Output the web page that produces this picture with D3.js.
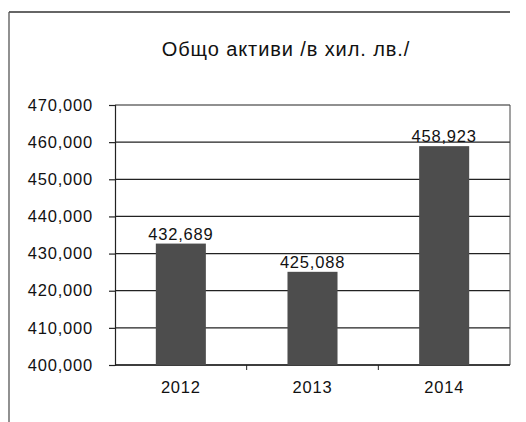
<!DOCTYPE html>
<html>
<head>
<meta charset="utf-8">
<script src="https://cdn.jsdelivr.net/npm/d3@7"></script>
<style>
  body { margin: 0; background: #fff; }
  text { font-family: "Liberation Sans", Arial, sans-serif; fill: #111; }
</style>
</head>
<body>
<div id="chart"></div>
<script>
// chart size
var chart_width  = 526;
var chart_height = 422;

// data
var years  = ['2012', '2013', '2014'];
var values = [432689, 425088, 458923];
var y_ticks = [400000, 410000, 420000, 430000, 440000, 450000, 460000, 470000];
var title_text = 'Общо активи /в хил. лв./';

var plot = { left: 115, right: 510, top: 105, bottom: 365 };
var label_size = 16.5;
var label_spacing = 0.8;

var svg = d3.select('#chart')
    .append('svg')
    .attr('width', chart_width)
    .attr('height', chart_height);

// outer frame (only top and left visible on the scan)
svg.append('line')
    .attr('x1', 9).attr('y1', 12).attr('x2', 510).attr('y2', 12)
    .attr('stroke', '#333').attr('stroke-width', 1.3);
svg.append('line')
    .attr('x1', 9).attr('y1', 12).attr('x2', 9).attr('y2', 422)
    .attr('stroke', '#555').attr('stroke-width', 1.3);

svg.append('text')
    .attr('x', 286)
    .attr('y', 56)
    .attr('text-anchor', 'middle')
    .attr('font-size', 20)
    .attr('letter-spacing', 0.9)
    .text(title_text);

var x = d3.scaleBand()
    .domain(years)
    .range([plot.left, plot.right])
    .paddingInner(0.62)
    .paddingOuter(0.31);

var y = d3.scaleLinear()
    .domain([400000, 470000])
    .range([plot.bottom, plot.top]);

// gridlines
svg.append('g')
    .selectAll('line')
    .data(y_ticks)
    .enter()
    .append('line')
    .attr('x1', plot.left)
    .attr('x2', plot.right)
    .attr('y1', function(d){ return y(d); })
    .attr('y2', function(d){ return y(d); })
    .attr('stroke', '#222')
    .attr('stroke-width', 1.2);

// right edge of plot
svg.append('line')
    .attr('x1', plot.right).attr('x2', plot.right)
    .attr('y1', plot.top).attr('y2', plot.bottom)
    .attr('stroke', '#444').attr('stroke-width', 1);

// y axis
var y_axis = d3.axisLeft(y)
    .tickValues(y_ticks)
    .tickFormat(d3.format(','))
    .tickSize(6)
    .tickPadding(16);

var y_g = svg.append('g')
    .attr('transform', 'translate(' + plot.left + ',0)')
    .call(y_axis);
y_g.selectAll('text')
    .attr('font-size', label_size)
    .attr('letter-spacing', label_spacing)
    .attr('font-family', '"Liberation Sans", Arial, sans-serif');
y_g.selectAll('line, path').attr('stroke', '#222').attr('stroke-width', 1.2);

// x axis
var x_axis = d3.axisBottom(x)
    .tickSize(0)
    .tickPadding(16);

var x_g = svg.append('g')
    .attr('transform', 'translate(0,' + plot.bottom + ')')
    .call(x_axis);
x_g.select('.domain').remove();
x_g.selectAll('text')
    .attr('font-size', label_size)
    .attr('letter-spacing', label_spacing)
    .attr('font-family', '"Liberation Sans", Arial, sans-serif');

svg.append('line')
    .attr('x1', plot.left).attr('x2', plot.right)
    .attr('y1', plot.bottom).attr('y2', plot.bottom)
    .attr('stroke', '#222').attr('stroke-width', 1.3);

// category separators
var step = x.step();
svg.append('g')
    .selectAll('line')
    .data(years.slice(1))
    .enter()
    .append('line')
    .attr('x1', function(d){ return x(d) - step * x.paddingInner() / 2; })
    .attr('x2', function(d){ return x(d) - step * x.paddingInner() / 2; })
    .attr('y1', plot.bottom)
    .attr('y2', plot.bottom + 5)
    .attr('stroke', '#222');

// bars
svg.append('g')
    .selectAll('rect')
    .data(values)
    .enter()
    .append('rect')
    .attr('x', function(d, i){ return x(years[i]); })
    .attr('y', function(d){ return y(d); })
    .attr('width', x.bandwidth())
    .attr('height', function(d){ return plot.bottom - y(d); })
    .attr('fill', '#4d4d4d');

// value labels
svg.append('g')
    .selectAll('text')
    .data(values)
    .enter()
    .append('text')
    .attr('x', function(d, i){ return x(years[i]) + x.bandwidth() / 2; })
    .attr('y', function(d){ return y(d) - 4; })
    .attr('text-anchor', 'middle')
    .attr('font-size', label_size)
    .attr('letter-spacing', label_spacing)
    .text(function(d){ return d3.format(',')(d); });
</script>
</body>
</html>
